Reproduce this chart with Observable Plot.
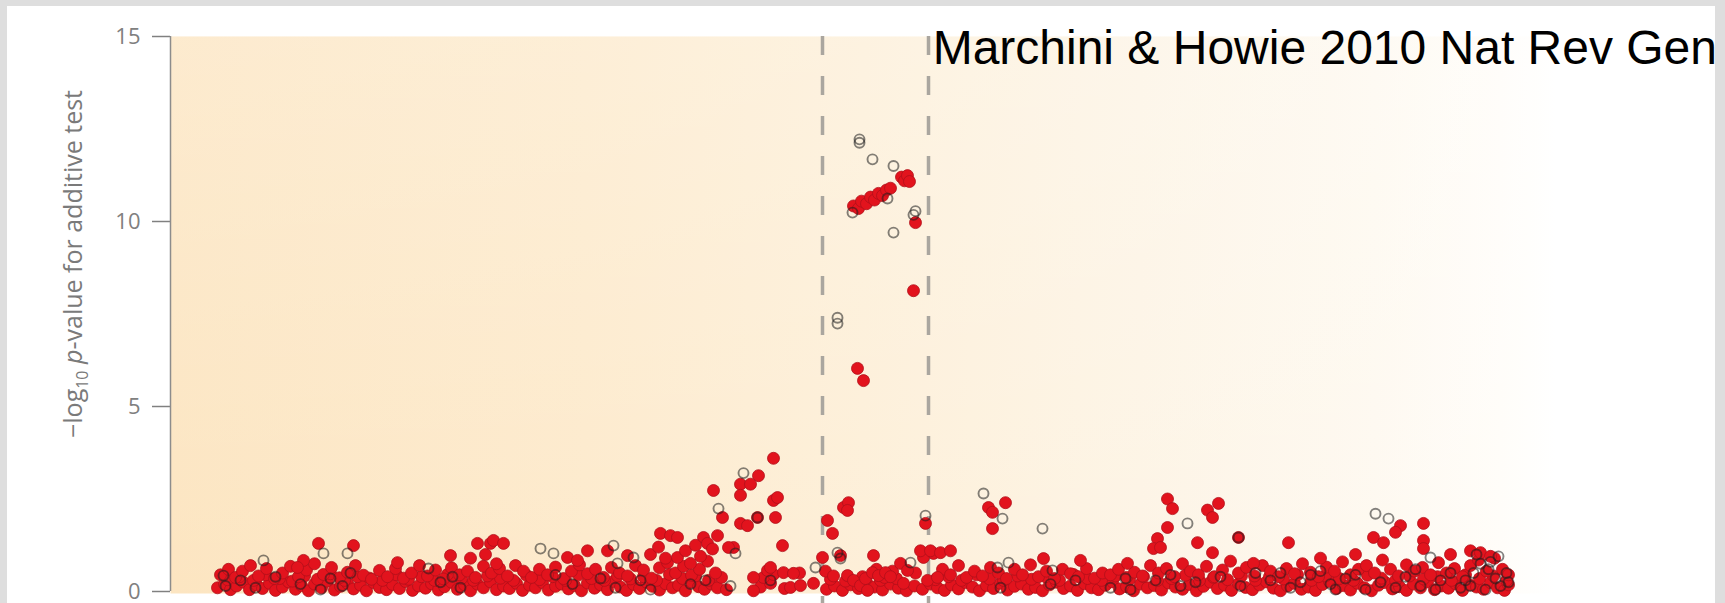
<!DOCTYPE html>
<html><head><meta charset="utf-8">
<script src="https://cdn.jsdelivr.net/npm/d3@7"></script>
<script src="https://cdn.jsdelivr.net/npm/@observablehq/plot@0.6"></script>
<style>
html,body{margin:0;padding:0;background:#dedede;width:1725px;height:603px;overflow:hidden}
#paper{position:absolute;left:7px;top:6px;width:1708px;height:597px;background:#fff}
#chart{position:absolute;left:0;top:0}
</style></head><body>
<div id="paper"></div><div id="chart"></div>
<script>
// ---- data ----
const titleText = "Marchini & Howie 2010 Nat Rev Gen";
const yTicks = [0, 5, 10, 15];
const xDomain = [0, 1386];            // position along the region (arbitrary units)
const regionBounds = [652, 758];      // dashed boundaries of the associated region

// imputed SNPs near baseline: [position, -log10 p]
const imputedBandLow = [[47,.1],[54,.2],[60,.05],[66,.15],[73,.25],[79,.05],[86,.18],[92,.08],[99,.22],[105,.03],[112,.12],[118,.26],[125,.06],[131,.16],[138,.02],[144,.2],[151,.1],[157,.28],[164,.04],[170,.14],[177,.22],[183,.07],[190,.17],[196,.02],[203,.24],[209,.11],[216,.05],[222,.19],[229,.08],[235,.27],[242,.03],[248,.15],[255,.09],[261,.21],[268,.04],[274,.13],[281,.25],[287,.06],[294,.18],[300,.02],[307,.2],[313,.1],[320,.26],[326,.05],[333,.15],[339,.08],[346,.22],[352,.03],[359,.17],[365,.1],[372,.24],[378,.04],[385,.14],[391,.2],[398,.07],[404,.16],[411,.02],[417,.23],[424,.09],[430,.18],[437,.05],[443,.27],[450,.12],[456,.03],[463,.19],[469,.08],[476,.25],[482,.14],[489,.04],[495,.21],[502,.1],[508,.17],[515,.02],[521,.26],[528,.13],[534,.06],[541,.2],[547,.1],[556,.05],[590,.12],[600,.22],[614,.08],[656,.06],[664,.15],[672,.03],[680,.18],[688,.08],[696,.25],[704,.12],[712,.04],[720,.2],[728,.09],[736,.02],[744,.15],[752,.06],[760,.2],[767,.1],[774,.03],[781,.18],[788,.07],[795,.24],[802,.12],[809,.02],[816,.16],[823,.08],[830,.22],[837,.04],[844,.14],[851,.2],[858,.06],[865,.11],[872,.02],[879,.18],[886,.25],[893,.08],[900,.15],[907,.03],[914,.21],[921,.1],[928,.05],[935,.17],[942,.26],[949,.07],[956,.13],[963,.02],[970,.2],[977,.1],[984,.16],[991,.04],[998,.23],[1005,.12],[1012,.06],[1019,.19],[1026,.02],[1033,.14],[1040,.25],[1047,.08],[1054,.17],[1061,.03],[1068,.21],[1075,.11],[1082,.05],[1089,.18],[1096,.26],[1103,.09],[1110,.02],[1117,.15],[1124,.22],[1131,.06],[1138,.12],[1145,.03],[1152,.19],[1159,.27],[1166,.08],[1173,.16],[1180,.04],[1187,.22],[1194,.1],[1201,.02],[1208,.17],[1215,.24],[1222,.07],[1229,.13],[1236,.03],[1243,.2],[1250,.1],[1257,.26],[1264,.05],[1271,.15],[1278,.09],[1285,.21],[1292,.03],[1299,.18],[1306,.12],[1313,.06],[1320,.24],[1327,.1],[1334,.03],[1338,.18]];

const imputedBandMid = [[57,.32],[69,.4],[83,.3],[95,.45],[109,.35],[122,.28],[134,.42],[147,.33],[160,.48],[174,.3],[187,.4],[199,.36],[212,.3],[226,.45],[238,.33],[251,.4],[264,.3],[277,.46],[291,.35],[303,.3],[317,.42],[330,.36],[343,.3],[356,.44],[369,.32],[382,.4],[395,.3],[408,.45],[421,.35],[434,.3],[447,.42],[460,.34],[473,.4],[486,.3],[499,.46],[512,.35],[525,.42],[538,.3],[551,.38],[660,.33],[675,.28],[692,.4],[710,.3],[726,.35],[765,.32],[778,.4],[791,.3],[806,.45],[819,.34],[833,.3],[847,.42],[861,.33],[875,.4],[889,.3],[903,.46],[917,.35],[931,.3],[945,.42],[959,.33],[973,.4],[987,.3],[1001,.35],[1015,.44],[1029,.3],[1043,.38],[1057,.32],[1071,.42],[1085,.3],[1099,.4],[1113,.34],[1127,.45],[1141,.3],[1155,.42],[1169,.35],[1183,.3],[1197,.44],[1211,.36],[1225,.3],[1239,.42],[1253,.34],[1267,.4],[1281,.3],[1295,.45],[1309,.35],[1323,.42],[1336,.3]];

const imputedBandHigh = [[50,.45],[58,.6],[65,.38],[72,.55],[80,.7],[88,.42],[96,.62],[104,.35],[112,.5],[120,.68],[128,.4],[136,.58],[144,.75],[153,.46],[161,.65],[169,.37],[177,.52],[185,.7],[193,.44],[201,.33],[209,.57],[217,.4],[225,.62],[233,.36],[241,.5],[249,.7],[257,.42],[265,.58],[273,.34],[281,.64],[289,.45],[297,.55],[305,.38],[313,.68],[321,.5],[329,.62],[337,.42],[345,.7],[353,.55],[361,.38],[369,.6],[377,.45],[385,.66],[393,.35],[401,.55],[409,.72],[417,.48],[425,.6],[433,.38],[441,.65],[449,.5],[457,.42],[465,.7],[473,.58],[481,.36],[489,.64],[497,.78],[505,.5],[513,.68],[521,.44],[529,.6],[537,.82],[545,.5],[593,.38],[603,.46],[629,.5],[655,.55],[663,.42],[706,.6],[714,.38],[722,.55],[745,.5],[772,.6],[780,.45],[788,.7],[796,.38],[804,.55],[812,.42],[820,.65],[828,.5],[836,.35],[844,.6],[852,.45],[860,.72],[868,.4],[876,.55],[884,.35],[892,.6],[900,.48],[908,.4],[916,.62],[924,.36],[932,.5],[940,.45],[948,.6],[956,.38],[964,.52],[972,.42],[980,.7],[988,.5],[996,.62],[1004,.4],[1012,.75],[1020,.55],[1028,.45],[1036,.68],[1044,.4],[1052,.58],[1060,.82],[1068,.5],[1076,.65],[1084,.42],[1092,.7],[1100,.55],[1108,.4],[1116,.62],[1124,.48],[1132,.75],[1140,.52],[1148,.4],[1156,.66],[1164,.55],[1172,.8],[1180,.45],[1188,.6],[1196,.7],[1204,.5],[1212,.85],[1220,.6],[1228,.42],[1236,.72],[1244,.55],[1252,.65],[1260,.45],[1268,.78],[1276,.5],[1284,.62],[1292,.4],[1300,.7],[1308,.85],[1316,.55],[1324,.9],[1332,.6],[1338,.45]];

// imputed SNPs standing out from the baseline
const imputedRaised = [[148,1.3],[183,1.24],[133,.84],[127,.65],[227,.78],[280,.97],[307,1.3],[320,1.3],[300,.9],[315,1.0],[326,.75],
[323,1.38],[333,1.3],[397,.92],[407,.84],[417,1.1],[437,1.1],[457,.97],[490,1.57],[500,1.51],[507,1.46],[533,1.46],[547,1.51],[537,1.3],[507,.92],[520,.76],[563,1.19],[480,1.0],[488,1.2],[495,.9],[515,1.1],[525,1.25],[530,.95],[542,1.15],
[603,3.6],[588,3.13],[570,2.9],[580,2.9],[543,2.73],[570,2.6],[603,2.46],[607,2.54],[552,2.0],[587,2.0],[605,2.0],[570,1.84],[577,1.78],[612,1.24],[558,1.19],[583,.38],[597,.57],[600,.65],[613,.51],[623,.49],[583,.02],[620,.11],[630,.16],[643,.22],[652,.92],[657,1.92],[662,1.57],[673,2.27],[678,2.4],[677,2.19],[670,.97],[703,.97],[677,.43],[683,.3],[690,.16],[695,.35],[702,.51],[708,.43],[715,.51],[720,.4],[697,.03],[730,.76],[737,.57],[733,.22],[755,1.84],[753,.92],[763,1.03],[757,.3],[767,.38],
[683,10.42],[688,10.35],[691,10.55],[696,10.48],[700,10.66],[704,10.58],[708,10.76],[712,10.7],[716,10.85],[720,10.9],[731,11.2],[734,11.1],[737,11.24],[739,11.08],[745,9.97],[743,8.13],[687,6.03],[693,5.7],
[835,2.4],[818,2.27],[822,2.14],[822,1.7],[997,2.5],[1002,2.24],[997,1.73],[1037,2.2],[1042,2.0],[1048,2.38],[1068,1.46],[1027,1.32],[987,1.43],[983,1.16],[990,1.19],[1042,1.05],[910,.84],[873,.89],[750,1.1],[760,1.1],[770,1.05],[780,1.1],[957,.76],
[1230,1.78],[1225,1.6],[1253,1.84],[1203,1.46],[1213,1.32],[1253,1.38],[1253,1.16],[1118,1.32],[1083,.76],[1185,1.0],[1150,.9],[1280,1.0],[1300,1.1],[1310,1.05],[1320,.95]];

// genotyped SNPs (open circles)
const typedSnps = [[53,.43],[93,.84],[153,1.03],[177,1.03],[258,.62],[55,.15],[70,.3],[85,.1],[105,.4],[130,.2],[150,.05],[160,.35],[172,.15],[180,.5],[270,.25],[282,.4],[290,.1],
[370,1.16],[383,1.03],[443,1.24],[447,.76],[463,.92],[385,.45],[402,.2],[430,.35],[445,.1],[470,.3],[480,.05],[520,.2],[535,.3],
[573,3.2],[548,2.24],[587,2.0],[565,1.03],[645,.65],[667,1.05],[670,.89],[740,.78],[755,2.05],[560,.15],[600,.3],
[689,12.13],[689,12.22],[702,11.68],[723,11.5],[682,10.24],[717,10.62],[723,9.7],[743,10.18],[745,10.28],[667,7.4],[667,7.24],
[813,2.65],[832,1.97],[872,1.7],[827,.65],[838,.78],[882,.57],[1017,1.84],[1068,1.46],[830,.1],[880,.2],[960,.05],[985,.3],[1000,.45],[1010,.15],[1025,.25],[1050,.4],[1070,.15],[1085,.5],[905,.3],[940,.1],[955,.35],[1110,.5],[1130,.25],
[1205,2.1],[1218,1.97],[1260,.92],[1100,.3],[1120,.1],[1140,.45],[1160,.2],[1175,.35],[1195,.05],[1210,.25],[1235,.4],[1250,.15],[1270,.3],[1290,.1],[1303,.5],[1310,.75],[1318,.6],[1325,.35],[1330,.15],[1336,.5],[1315,.05],
[1150,.55],[1165,.05],[1185,.45],[1225,.1],[1245,.6],[1265,.05],[1280,.5],[1295,.3],[1300,.15],[1320,.8],[1328,.95],[1338,.25],[1306,1.0]];

// ---- chart ----
const imputed = [...imputedBandLow, ...imputedBandMid, ...imputedBandHigh, ...imputedRaised];

const chart = Plot.plot({
  width: 1725, height: 603,
  marginLeft: 170, marginRight: 169, marginTop: 36, marginBottom: 12,
  style: {background: "transparent", fontFamily: "'Open Sans', 'DejaVu Sans', sans-serif", overflow: "visible"},
  x: {domain: xDomain, axis: null},
  y: {domain: [0, 15], label: null},
  marks: [
    Plot.frame({fill: "url(#bgH)", stroke: "none", insetBottom: -2}),
    Plot.frame({fill: "url(#bgV)", stroke: "none", insetBottom: -2}),
    Plot.ruleX(regionBounds, {y1: 15, y2: -0.35, stroke: "#aaa69f", strokeWidth: 3.5, strokeDasharray: "19,21"}),
    Plot.axisY({ticks: yTicks, tickSize: 18, tickPadding: 12, fontSize: 22, color: "#808080", strokeWidth: 1.5, label: null}),
    Plot.ruleX([0], {y1: 0, y2: 15, stroke: "#8c8c8c", strokeWidth: 1.5}),
    Plot.dot(imputed, {x: d => d[0], y: d => d[1], r: 6, fill: "#e2131d", stroke: "#b0101a", strokeWidth: 0.8}),
    Plot.dot(typedSnps, {x: d => d[0], y: d => d[1], r: 5, fill: "none", stroke: "#1e1e1e", strokeOpacity: 0.55, strokeWidth: 1.9})
  ]
});

const svg = d3.select(chart);
const defs = svg.insert("defs", ":first-child");
const gH = defs.append("linearGradient").attr("id", "bgH").attr("x1", 0).attr("x2", 1).attr("y1", 0).attr("y2", 0);
[[0, "#fce5c1"], [0.3, "#fdeacc"], [0.5, "#fdefd8"], [0.7, "#fdf4e5"], [0.87, "#fef9f0"], [0.96, "#fffdf9"], [1, "#ffffff"]]
  .forEach(([o, c]) => gH.append("stop").attr("offset", o).attr("stop-color", c));
const gV = defs.append("linearGradient").attr("id", "bgV").attr("x1", 0).attr("x2", 0).attr("y1", 0).attr("y2", 1);
[[0, "#ffffff", 0.22], [1, "#ffffff", 0]]
  .forEach(([o, c, a]) => gV.append("stop").attr("offset", o).attr("stop-color", c).attr("stop-opacity", a));

// rotated y-axis label with subscript and italic p
const lab = svg.append("text")
  .attr("transform", "translate(82,264) rotate(-90)")
  .attr("text-anchor", "middle")
  .attr("font-family", "'Open Sans', 'DejaVu Sans', sans-serif")
  .attr("font-size", 25).attr("fill", "#7a7a7a");
lab.append("tspan").text("\u2212log");
lab.append("tspan").attr("font-size", 16).attr("dy", 6).text("10");
lab.append("tspan").attr("dy", -6).text(" ");
lab.append("tspan").attr("font-style", "italic").text("p");
lab.append("tspan").text("-value for additive test");

// overlaid title
svg.append("text")
  .attr("x", 1717).attr("y", 64).attr("text-anchor", "end")
  .attr("font-family", "'Liberation Sans', Arial, sans-serif")
  .attr("font-size", 48).attr("fill", "#000")
  .text(titleText);

document.getElementById("chart").appendChild(chart);
</script>
</body></html>
